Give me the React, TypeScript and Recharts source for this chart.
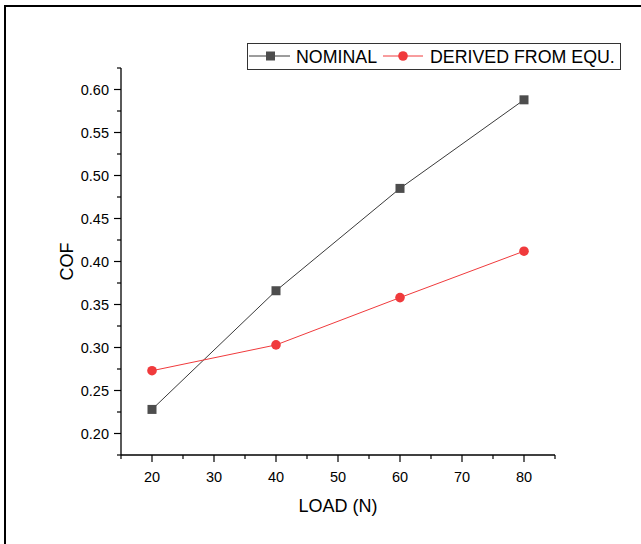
import React from 'react';
import { LineChart, Line, XAxis, YAxis, Legend } from 'recharts';

const loads = [20, 40, 60, 80];
const nominal = [0.228, 0.366, 0.485, 0.588];
const derived = [0.273, 0.303, 0.358, 0.412];
const xTicks = [15, 20, 25, 30, 35, 40, 45, 50, 55, 60, 65, 70, 75, 80, 85];
const yTicks = [0.175, 0.2, 0.225, 0.25, 0.275, 0.3, 0.325, 0.35, 0.375, 0.4, 0.425, 0.45, 0.475, 0.5, 0.525, 0.55, 0.575, 0.6, 0.625];
const seriesNames = ['NOMINAL', 'DERIVED FROM EQU.'];

const data = loads.map((l, i) => ({ load: l, nominal: nominal[i], derived: derived[i] }));

const FONT = 'Liberation Sans, Arial, sans-serif';
const GRAY = '#4d4d4d';
const GRAY_LINE = '#3a3a3a';
const RED = '#f03a3c';

const XTick = (props: any) => {
  const { x, y, payload } = props;
  const v = payload.value;
  const major = Math.round(v) % 10 === 0;
  return (
    <g>
      <line x1={x} x2={x} y1={y} y2={y + (major ? 7 : 4)} stroke="#000" strokeWidth={1.2} />
      {major && (
        <text x={x} y={y + 27} textAnchor="middle" fontSize={14.5} fontFamily={FONT} fill="#000">
          {v}
        </text>
      )}
    </g>
  );
};

const YTick = (props: any) => {
  const { x, y, payload } = props;
  const v = payload.value;
  const major = Math.round(v * 1000) % 50 === 0;
  return (
    <g>
      <line x1={x - (major ? 7 : 4)} x2={x} y1={y} y2={y} stroke="#000" strokeWidth={1.2} />
      {major && (
        <text x={x - 12} y={y + 5} textAnchor="end" fontSize={14.5} fontFamily={FONT} fill="#000">
          {v.toFixed(2)}
        </text>
      )}
    </g>
  );
};

const SquareDot = (props: any) => {
  const { cx, cy } = props;
  if (cx == null || cy == null) return null;
  return <rect x={cx - 4.5} y={cy - 4.5} width={9} height={9} fill={GRAY} />;
};

const CircleDot = (props: any) => {
  const { cx, cy } = props;
  if (cx == null || cy == null) return null;
  return <circle cx={cx} cy={cy} r={4.8} fill={RED} />;
};

const renderLegend = () => (
  <svg width={375} height={28} style={{ display: 'block' }}>
    <rect x={0.5} y={0.5} width={373} height={26} fill="#fff" stroke="#333" strokeWidth={1} />
    <line x1={2} x2={43} y1={13} y2={13} stroke={GRAY_LINE} strokeWidth={1} />
    <rect x={19} y={8.5} width={9} height={9} fill={GRAY} />
    <text x={49} y={19.5} fontSize={17.8} fontFamily={FONT} fill="#000">{seriesNames[0]}</text>
    <line x1={136} x2={176} y1={13} y2={13} stroke={RED} strokeWidth={1} />
    <circle cx={156} cy={13} r={4.8} fill={RED} />
    <text x={183} y={19.5} fontSize={17.8} fontFamily={FONT} fill="#000">{seriesNames[1]}</text>
  </svg>
);

export default function App() {
  return (
    <div style={{ position: 'absolute', left: 0, top: 0, width: 641, height: 544, background: '#fff' }}>
      <div
        style={{
          position: 'absolute',
          left: 4,
          top: 4.5,
          width: 660,
          height: 560,
          borderTop: '2.5px solid #000',
          borderLeft: '2.5px solid #000',
        }}
      />
      <div style={{ position: 'absolute', left: 0, top: 0 }}>
        <LineChart width={641} height={544} data={data} margin={{ top: 68, right: 86, bottom: 0, left: 0 }}>
          <XAxis
            type="number"
            dataKey="load"
            domain={[15, 85]}
            ticks={xTicks}
            allowDataOverflow
            height={89}
            tickSize={0}
            tickMargin={0}
            tickLine={false}
            axisLine={{ stroke: '#000', strokeWidth: 1.3 }}
            tick={<XTick />}
            interval={0}
            label={(p: any) => {
              const vb = p.viewBox;
              return (
                <text x={vb.x + vb.width / 2} y={vb.y + 57} textAnchor="middle" fontSize={18} fontFamily={FONT} fill="#000">
                  LOAD (N)
                </text>
              );
            }}
          />
          <YAxis
            type="number"
            domain={[0.175, 0.625]}
            ticks={yTicks}
            allowDataOverflow
            width={121}
            tickSize={0}
            tickMargin={0}
            tickLine={false}
            axisLine={{ stroke: '#000', strokeWidth: 1.3 }}
            tick={<YTick />}
            interval={0}
            label={(p: any) => {
              const vb = p.viewBox;
              const cx = vb.x + 73;
              const cy = vb.y + vb.height / 2;
              return (
                <text x={cx} y={cy} transform={`rotate(-90, ${cx}, ${cy})`} textAnchor="middle" fontSize={18} fontFamily={FONT} fill="#000">
                  COF
                </text>
              );
            }}
          />
          <Legend
            layout="vertical"
            align="center"
            verticalAlign="middle"
            content={renderLegend}
            wrapperStyle={{ position: 'absolute', left: 247, top: 43, width: 375, height: 28, margin: 0 }}
          />
          <Line
            dataKey="nominal"
            name={seriesNames[0]}
            stroke={GRAY_LINE}
            strokeWidth={1}
            dot={<SquareDot />}
            isAnimationActive={false}
          />
          <Line
            dataKey="derived"
            name={seriesNames[1]}
            stroke={RED}
            strokeWidth={1}
            dot={<CircleDot />}
            isAnimationActive={false}
          />
        </LineChart>
      </div>
    </div>
  );
}
